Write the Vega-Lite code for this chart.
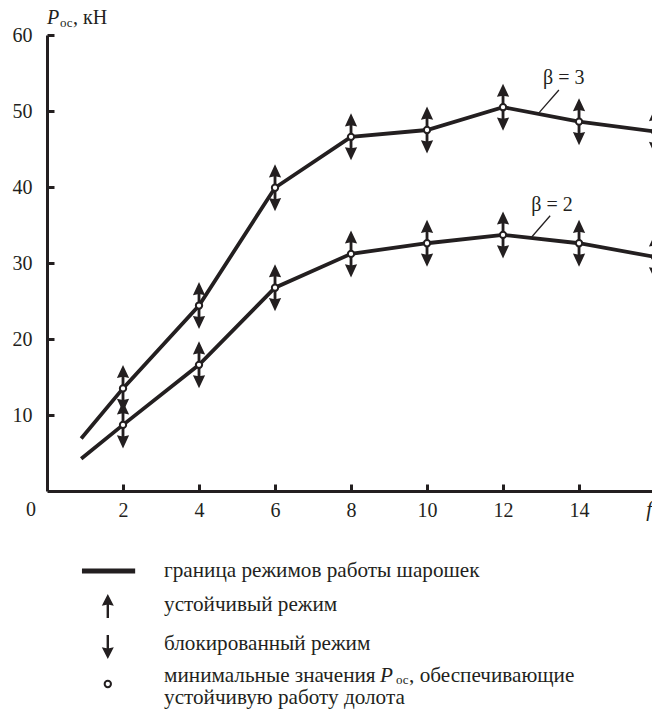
{
  "$schema": "https://vega.github.io/schema/vega-lite/v6.json",
  "autosize": {"type": "none"},
  "width": 605,
  "height": 456,
  "padding": {"left": 47, "top": 35, "right": 0, "bottom": 226},
  "background": "white",
  "config": {"view": {"stroke": null}},
  "datasets": {
    "curves": [
      {"beta": "3", "f": 0.9, "P": 6.9},
      {"beta": "3", "f": 2, "P": 13.5},
      {"beta": "3", "f": 4, "P": 24.4},
      {"beta": "3", "f": 6, "P": 39.9},
      {"beta": "3", "f": 8, "P": 46.6},
      {"beta": "3", "f": 10, "P": 47.5},
      {"beta": "3", "f": 12, "P": 50.5},
      {"beta": "3", "f": 14, "P": 48.6},
      {"beta": "3", "f": 16, "P": 47.3},
      {"beta": "2", "f": 0.9, "P": 4.25},
      {"beta": "2", "f": 2, "P": 8.7},
      {"beta": "2", "f": 4, "P": 16.6},
      {"beta": "2", "f": 6, "P": 26.75},
      {"beta": "2", "f": 8, "P": 31.2},
      {"beta": "2", "f": 10, "P": 32.6},
      {"beta": "2", "f": 12, "P": 33.7},
      {"beta": "2", "f": 14, "P": 32.6},
      {"beta": "2", "f": 16, "P": 30.8}
    ]
  },
  "data": {"name": "curves"},
  "layer": [
    {
      "mark": {"type": "line", "color": "#231f20", "strokeWidth": 3.8, "clip": true},
      "encoding": {
        "x": {
          "field": "f",
          "type": "quantitative",
          "title": null,
          "scale": {"domain": [0, 15.92], "nice": false, "zero": false},
          "axis": {
            "title": null,
            "values": [2, 4, 6, 8, 10, 12, 14],
            "grid": false,
            "ticks": true,
            "tickSize": -7,
            "tickWidth": 3,
            "tickColor": "#231f20",
            "domainColor": "#231f20",
            "domainWidth": 3,
            "labelPadding": 16,
            "labelFont": "Liberation Serif",
            "labelFontSize": 20,
            "labelColor": "#231f20"
          }
        },
        "y": {
          "field": "P",
          "type": "quantitative",
          "title": null,
          "scale": {"domain": [0, 60], "nice": false, "zero": true},
          "axis": {
            "title": null,
            "values": [10, 20, 30, 40, 50, 60],
            "grid": false,
            "ticks": true,
            "tickSize": -7,
            "tickWidth": 3,
            "tickColor": "#231f20",
            "domainColor": "#231f20",
            "domainWidth": 3,
            "labelPadding": 22,
            "labelFont": "Liberation Serif",
            "labelFontSize": 20,
            "labelColor": "#231f20"
          }
        },
        "detail": {"field": "beta"}
      }
    },
    {
      "transform": [{"filter": "datum.f >= 2"}],
      "mark": {
        "type": "point",
        "shape": "M0,-1L0.26,-0.44L0.06,-0.48L0.06,0.48L0.26,0.44L0,1L-0.26,0.44L-0.06,0.48L-0.06,-0.48L-0.26,-0.44Z",
        "size": 2209,
        "filled": true,
        "color": "#231f20",
        "opacity": 1,
        "strokeWidth": 0,
        "clip": true
      },
      "encoding": {
        "x": {"field": "f", "type": "quantitative", "title": null},
        "y": {"field": "P", "type": "quantitative", "title": null}
      }
    },
    {
      "transform": [{"filter": "datum.f >= 2"}],
      "mark": {
        "type": "point",
        "shape": "circle",
        "size": 40,
        "filled": true,
        "fill": "white",
        "stroke": "#231f20",
        "strokeWidth": 2,
        "opacity": 1,
        "clip": true
      },
      "encoding": {
        "x": {"field": "f", "type": "quantitative", "title": null},
        "y": {"field": "P", "type": "quantitative", "title": null}
      }
    },
    {
      "data": {"values": [{"t": "β = 3"}]},
      "mark": {"type": "text", "font": "Liberation Serif", "color": "#231f20", "fontSize": 20, "align": "center", "baseline": "middle"},
      "encoding": {
        "x": {"datum": 13.6, "title": null},
        "y": {"datum": 54.4, "title": null},
        "text": {"field": "t"}
      }
    },
    {
      "data": {"values": [{"t": "β = 2"}]},
      "mark": {"type": "text", "font": "Liberation Serif", "color": "#231f20", "fontSize": 20, "align": "center", "baseline": "middle"},
      "encoding": {
        "x": {"datum": 13.29, "title": null},
        "y": {"datum": 37.6, "title": null},
        "text": {"field": "t"}
      }
    },
    {
      "data": {"values": [{}]},
      "mark": {"type": "rule", "color": "#231f20", "strokeWidth": 1.3},
      "encoding": {
        "x": {"datum": 13.47, "title": null},
        "x2": {"datum": 12.95},
        "y": {"datum": 52.76, "title": null},
        "y2": {"datum": 49.78}
      }
    },
    {
      "data": {"values": [{}]},
      "mark": {"type": "rule", "color": "#231f20", "strokeWidth": 1.3},
      "encoding": {
        "x": {"datum": 13.24, "title": null},
        "x2": {"datum": 12.76},
        "y": {"datum": 36.22, "title": null},
        "y2": {"datum": 33.46}
      }
    },
    {
      "data": {"values": [{"t": "0"}]},
      "mark": {"type": "text", "font": "Liberation Serif", "color": "#231f20", "fontSize": 20, "align": "right", "baseline": "top", "dx": -11, "dy": 9},
      "encoding": {
        "x": {"datum": 0, "title": null},
        "y": {"datum": 0, "title": null},
        "text": {"field": "t"}
      }
    },
    {
      "data": {"values": [{"t": "f"}]},
      "mark": {"type": "text", "font": "Liberation Serif", "color": "#231f20", "fontSize": 21, "fontStyle": "italic", "align": "right", "baseline": "top", "dy": 8},
      "encoding": {
        "x": {"datum": 15.92, "title": null},
        "y": {"datum": 0, "title": null},
        "text": {"field": "t"}
      }
    },
    {
      "data": {"values": [{"t": "P"}]},
      "mark": {"type": "text", "font": "Liberation Serif", "color": "#231f20", "fontSize": 20, "fontStyle": "italic", "align": "left", "baseline": "alphabetic", "dx": 0, "dy": -11},
      "encoding": {
        "x": {"datum": 0, "title": null},
        "y": {"datum": 60, "title": null},
        "text": {"field": "t"}
      }
    },
    {
      "data": {"values": [{"t": "ос"}]},
      "mark": {"type": "text", "font": "Liberation Serif", "color": "#231f20", "fontSize": 13, "align": "left", "baseline": "alphabetic", "dx": 13, "dy": -8},
      "encoding": {
        "x": {"datum": 0, "title": null},
        "y": {"datum": 60, "title": null},
        "text": {"field": "t"}
      }
    },
    {
      "data": {"values": [{"t": ", кН"}]},
      "mark": {"type": "text", "font": "Liberation Serif", "color": "#231f20", "fontSize": 20, "align": "left", "baseline": "alphabetic", "dx": 26, "dy": -11},
      "encoding": {
        "x": {"datum": 0, "title": null},
        "y": {"datum": 60, "title": null},
        "text": {"field": "t"}
      }
    },
    {
      "data": {"values": [{}]},
      "mark": {"type": "rule", "color": "#231f20", "strokeWidth": 5},
      "encoding": {
        "x": {"datum": 0.92, "title": null},
        "x2": {"datum": 2.32},
        "y": {"datum": -10.53, "title": null}
      }
    },
    {
      "data": {"values": [{}]},
      "mark": {"type": "point", "shape": "M0,-1L0.5,-0.02L0.1,-0.1L0.1,1L-0.1,1L-0.1,-0.1L-0.5,-0.02Z", "size": 576, "filled": true, "color": "#231f20", "opacity": 1, "strokeWidth": 0},
      "encoding": {
        "x": {"datum": 1.6, "title": null},
        "y": {"datum": -15.13, "title": null}
      }
    },
    {
      "data": {"values": [{}]},
      "mark": {"type": "point", "shape": "M0,1L0.5,0.02L0.1,0.1L0.1,-1L-0.1,-1L-0.1,0.1L-0.5,0.02Z", "size": 576, "filled": true, "color": "#231f20", "opacity": 1, "strokeWidth": 0},
      "encoding": {
        "x": {"datum": 1.6, "title": null},
        "y": {"datum": -20.53, "title": null}
      }
    },
    {
      "data": {"values": [{}]},
      "mark": {"type": "point", "shape": "circle", "size": 40, "filled": true, "fill": "white", "stroke": "#231f20", "strokeWidth": 2, "opacity": 1},
      "encoding": {
        "x": {"datum": 1.6, "title": null},
        "y": {"datum": -25.39, "title": null}
      }
    },
    {
      "data": {"values": [{"t": "граница режимов работы шарошек"}]},
      "mark": {"type": "text", "font": "Liberation Serif", "color": "#231f20", "fontSize": 21.2, "align": "left", "baseline": "alphabetic"},
      "encoding": {
        "x": {"datum": 3.08, "title": null},
        "y": {"datum": -11.32, "title": null},
        "text": {"field": "t"}
      }
    },
    {
      "data": {"values": [{"t": "устойчивый режим"}]},
      "mark": {"type": "text", "font": "Liberation Serif", "color": "#231f20", "fontSize": 21.2, "align": "left", "baseline": "alphabetic"},
      "encoding": {
        "x": {"datum": 3.08, "title": null},
        "y": {"datum": -15.79, "title": null},
        "text": {"field": "t"}
      }
    },
    {
      "data": {"values": [{"t": "блокированный режим"}]},
      "mark": {"type": "text", "font": "Liberation Serif", "color": "#231f20", "fontSize": 21.2, "align": "left", "baseline": "alphabetic"},
      "encoding": {
        "x": {"datum": 3.08, "title": null},
        "y": {"datum": -20.92, "title": null},
        "text": {"field": "t"}
      }
    },
    {
      "data": {"values": [{"t": "минимальные значения"}]},
      "mark": {"type": "text", "font": "Liberation Serif", "color": "#231f20", "fontSize": 21.2, "align": "left", "baseline": "alphabetic"},
      "encoding": {
        "x": {"datum": 3.08, "title": null},
        "y": {"datum": -25.13, "title": null},
        "text": {"field": "t"}
      }
    },
    {
      "data": {"values": [{"t": "P"}]},
      "mark": {"type": "text", "font": "Liberation Serif", "color": "#231f20", "fontSize": 21.2, "fontStyle": "italic", "align": "left", "baseline": "alphabetic", "dx": 216},
      "encoding": {
        "x": {"datum": 3.08, "title": null},
        "y": {"datum": -25.13, "title": null},
        "text": {"field": "t"}
      }
    },
    {
      "data": {"values": [{"t": "ос"}]},
      "mark": {"type": "text", "font": "Liberation Serif", "color": "#231f20", "fontSize": 13, "align": "left", "baseline": "alphabetic", "dx": 232, "dy": 2},
      "encoding": {
        "x": {"datum": 3.08, "title": null},
        "y": {"datum": -25.13, "title": null},
        "text": {"field": "t"}
      }
    },
    {
      "data": {"values": [{"t": ", обеспечивающие"}]},
      "mark": {"type": "text", "font": "Liberation Serif", "color": "#231f20", "fontSize": 21.2, "align": "left", "baseline": "alphabetic", "dx": 245},
      "encoding": {
        "x": {"datum": 3.08, "title": null},
        "y": {"datum": -25.13, "title": null},
        "text": {"field": "t"}
      }
    },
    {
      "data": {"values": [{"t": "устойчивую работу долота"}]},
      "mark": {"type": "text", "font": "Liberation Serif", "color": "#231f20", "fontSize": 21.2, "align": "left", "baseline": "alphabetic"},
      "encoding": {
        "x": {"datum": 3.08, "title": null},
        "y": {"datum": -28.03, "title": null},
        "text": {"field": "t"}
      }
    }
  ]
}
